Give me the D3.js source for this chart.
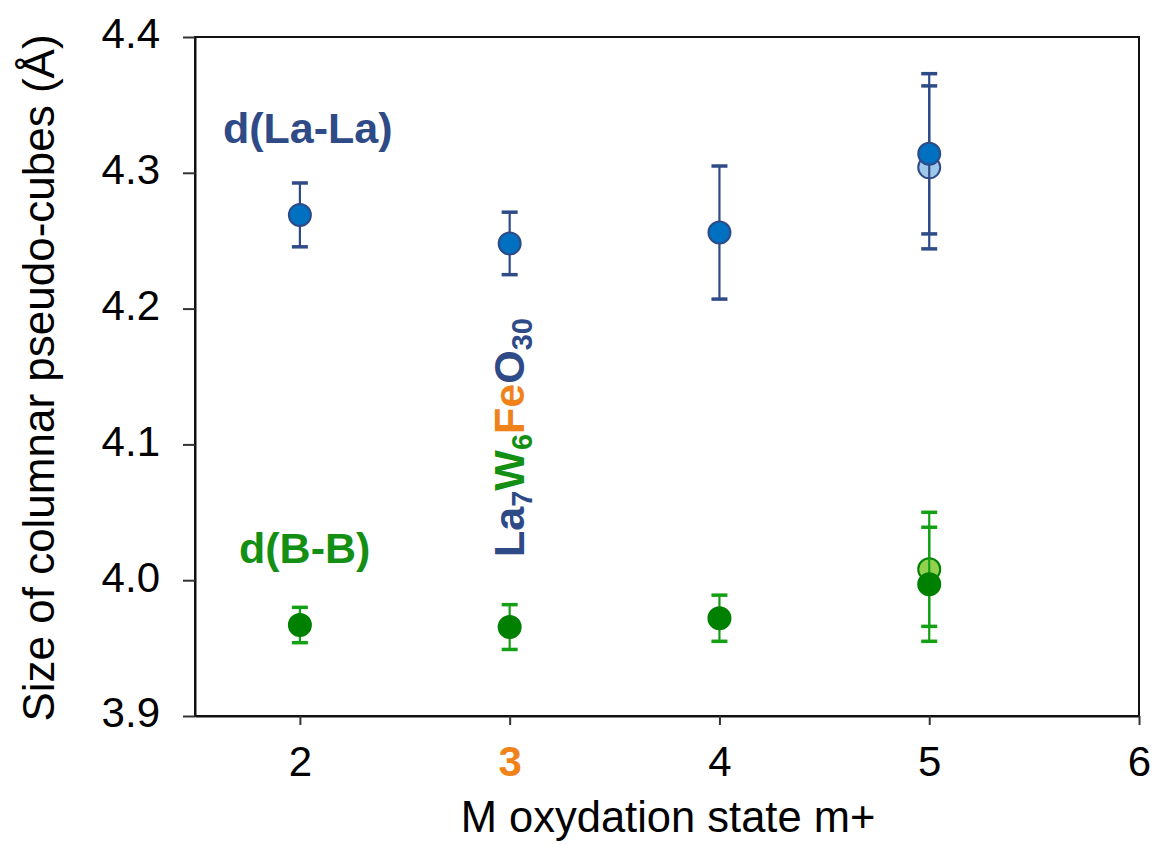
<!DOCTYPE html>
<html>
<head>
<meta charset="utf-8">
<script src="https://cdn.jsdelivr.net/npm/d3@7"></script>
<style>
  html, body { margin: 0; padding: 0; background: #fff; }
  svg { display: block; font-family: "Liberation Sans", Arial, sans-serif; }
</style>
</head>
<body>
<svg id="chart" width="1154" height="845"></svg>
<script>
// ---- data ----
const oxStates   = [2, 3, 4, 5];
const laLa       = [4.269, 4.248, 4.256, 4.314];
const laLaErr    = [0.0235, 0.023, 0.049, 0.059];
const laLaAltX   = [5];
const laLaAlt    = [4.304];
const laLaAltErr = [0.060];
const bB         = [3.967, 3.9655, 3.972, 3.997];
const bBErr      = [0.013, 0.0165, 0.017, 0.042];
const bBAltX     = [5];
const bBAlt      = [4.008];
const bBAltErr   = [0.042];
const xTicks     = [2, 3, 4, 5, 6];
const yTicks     = [3.9, 4.0, 4.1, 4.2, 4.3, 4.4];
const xDomain    = [1.5, 6];
const yDomain    = [3.9, 4.4];

// ---- layout ----
const L = 195, R = 1139, T = 37, B = 716;
const svg = d3.select("#chart");
const x = d3.scaleLinear().domain(xDomain).range([L, R]);
const y = d3.scaleLinear().domain(yDomain).range([B, T]);

const navy = "#2E4A87", blue = "#0070C0", lightBlue = "#9DC8EA";
const green = "#138F13", greenBar = "#14A014", dkGreen = "#008000", lightGreen = "#92D050";
const orange = "#F0821A";

// frame
svg.append("rect").attr("x", L).attr("y", T).attr("width", R - L).attr("height", B - T)
  .attr("fill", "none").attr("stroke", "#111").attr("stroke-width", 2);

// axes
const xAxis = svg.append("g").attr("transform", `translate(0,${B})`)
  .call(d3.axisBottom(x).tickValues(xTicks).tickFormat(d3.format("d")).tickSize(9).tickSizeOuter(0).tickPadding(21));
const yAxis = svg.append("g").attr("transform", `translate(${L},0)`)
  .call(d3.axisLeft(y).tickValues(yTicks).tickFormat(d3.format(".1f")).tickSize(12).tickSizeOuter(0).tickPadding(23));
[xAxis, yAxis].forEach(g => {
  g.select(".domain").attr("stroke", "#111").attr("stroke-width", 2);
  g.selectAll(".tick line").attr("stroke", "#333").attr("stroke-width", 2);
  g.selectAll(".tick text").attr("font-size", 42).attr("fill", "#000")
    .attr("font-family", "'Liberation Sans', Arial, sans-serif");
});
yAxis.selectAll(".tick text").attr("dy", "0.26em");
xAxis.selectAll(".tick text").filter(d => d === 3)
  .attr("fill", orange).attr("font-weight", "bold");

// axis titles
svg.append("text").attr("x", 668).attr("y", 832).attr("text-anchor", "middle")
  .attr("font-size", 43.5).attr("fill", "#000").text("M oxydation state m+");
svg.append("text").attr("transform", `translate(54,378) rotate(-90)`)
  .attr("text-anchor", "middle").attr("font-size", 44).attr("fill", "#000")
  .text("Size of columnar pseudo-cubes (Å)");

// error bars + markers
function series(xs, vals, errs, barColor, fill, stroke) {
  const g = svg.append("g");
  const d = xs.map((xv, i) => ({ x: xv, v: vals[i], e: errs[i] }));
  g.selectAll("line.v").data(d).join("line")
    .attr("x1", p => x(p.x)).attr("x2", p => x(p.x))
    .attr("y1", p => y(p.v + p.e)).attr("y2", p => y(p.v - p.e))
    .attr("stroke", barColor).attr("stroke-width", 2.2);
  ["+", "-"].forEach(s => {
    g.selectAll("line.c" + (s === "+" ? "u" : "d")).data(d).join("line")
      .attr("x1", p => x(p.x) - 8).attr("x2", p => x(p.x) + 8)
      .attr("y1", p => y(s === "+" ? p.v + p.e : p.v - p.e))
      .attr("y2", p => y(s === "+" ? p.v + p.e : p.v - p.e))
      .attr("stroke", barColor).attr("stroke-width", 3.5);
  });
  return { g, d, fill, stroke };
}
function markers(s) {
  s.g.selectAll("circle").data(s.d).join("circle")
    .attr("cx", p => x(p.x)).attr("cy", p => y(p.v)).attr("r", 11)
    .attr("fill", s.fill).attr("stroke", s.stroke).attr("stroke-width", 2);
}
const sLaAlt = series(laLaAltX, laLaAlt, laLaAltErr, navy, lightBlue, navy);
const sLa    = series(oxStates, laLa, laLaErr, navy, blue, navy);
const sBAlt  = series(bBAltX, bBAlt, bBAltErr, greenBar, lightGreen, dkGreen);
const sB     = series(oxStates, bB, bBErr, greenBar, dkGreen, dkGreen);
[sLaAlt, sLa, sBAlt, sB].forEach(markers);

// annotations
svg.append("text").attr("x", 223).attr("y", 143).attr("font-size", 43).attr("font-weight", "bold")
  .attr("fill", navy).text("d(La-La)");
svg.append("text").attr("x", 239).attr("y", 563).attr("font-size", 43).attr("font-weight", "bold")
  .attr("fill", green).text("d(B-B)");

const formula = svg.append("text").attr("transform", "translate(524,557) rotate(-90)")
  .attr("font-size", 43).attr("font-weight", "bold");
const parts = [
  { t: "La", c: navy, sub: false }, { t: "7", c: navy, sub: true },
  { t: "W", c: green, sub: false }, { t: "6", c: green, sub: true },
  { t: "Fe", c: orange, sub: false },
  { t: "O", c: navy, sub: false }, { t: "30", c: navy, sub: true }
];
let prevSub = false;
parts.forEach(p => {
  const ts = formula.append("tspan").attr("fill", p.c).text(p.t);
  if (p.sub) ts.attr("font-size", 29).attr("dy", prevSub ? 0 : 8);
  else ts.attr("dy", prevSub ? -8 : 0);
  prevSub = p.sub;
});
</script>
</body>
</html>
